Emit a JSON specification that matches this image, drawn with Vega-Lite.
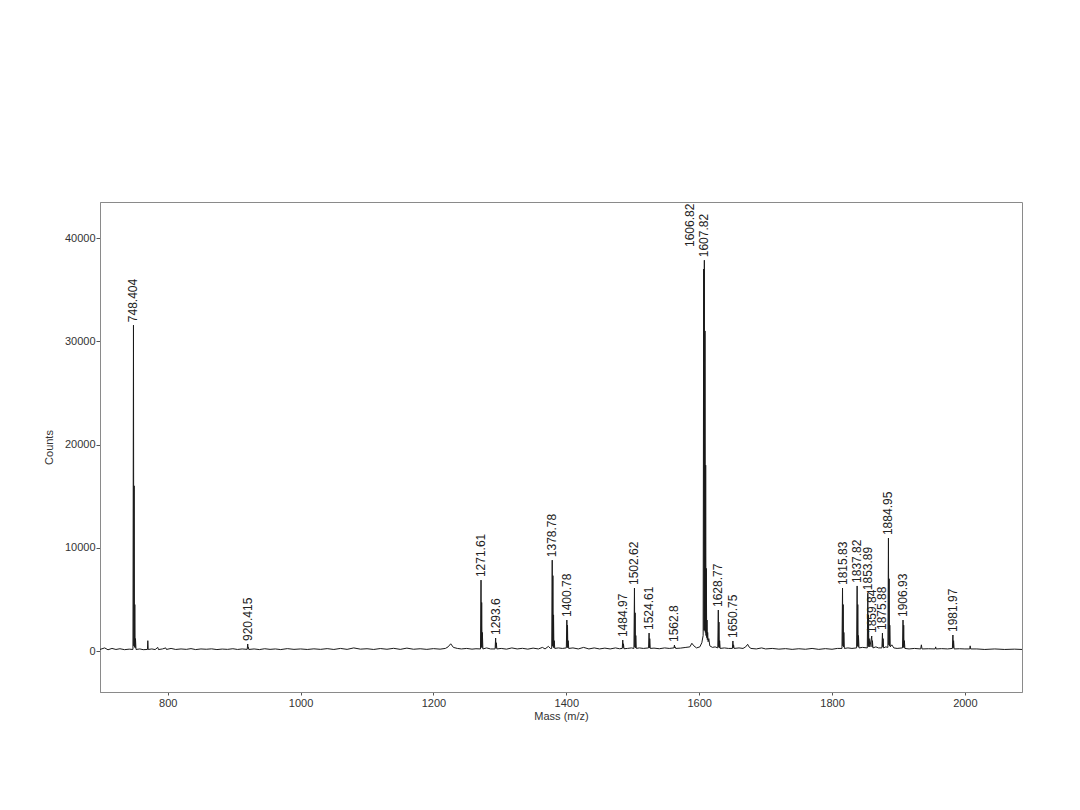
{
  "$schema": "https://vega.github.io/schema/vega-lite/v6.json",
  "width": 922,
  "height": 490,
  "autosize": {"type": "none"},
  "padding": {"left": 100, "top": 202, "right": 58, "bottom": 118},
  "background": "white",
  "config": {
    "font": "Liberation Sans",
    "view": {"stroke": "#8a8a8a", "strokeWidth": 1},
    "axis": {"domainColor": "#8a8a8a", "tickColor": "#555555", "labelColor": "#333333", "titleColor": "#333333", "labelFont": "Liberation Sans", "titleFont": "Liberation Sans", "labelFontSize": 11, "titleFontSize": 11, "titleFontWeight": "normal", "grid": false}
  },
  "datasets": {
    "trace": [
      {"mz": 698, "c": 150}, {"mz": 705, "c": 300}, {"mz": 710, "c": 120}, {"mz": 716, "c": 250}, {"mz": 722, "c": 150}, {"mz": 728, "c": 220}, {"mz": 735, "c": 130}, {"mz": 742, "c": 180},
      {"mz": 747.6, "c": 150}, {"mz": 748.4, "c": 31560}, {"mz": 748.9, "c": 500}, {"mz": 749.4, "c": 16000}, {"mz": 749.9, "c": 400}, {"mz": 750.4, "c": 4500}, {"mz": 750.9, "c": 300}, {"mz": 751.4, "c": 1200}, {"mz": 752.2, "c": 150},
      {"mz": 758, "c": 200}, {"mz": 763, "c": 130}, {"mz": 769.4, "c": 150}, {"mz": 770, "c": 1000}, {"mz": 770.6, "c": 150}, {"mz": 776, "c": 200}, {"mz": 781, "c": 140}, {"mz": 785, "c": 350}, {"mz": 786, "c": 140}, {"mz": 792, "c": 200}, {"mz": 797, "c": 300}, {"mz": 798, "c": 150},
      {"mz": 805, "c": 250}, {"mz": 812, "c": 150}, {"mz": 820, "c": 200}, {"mz": 828, "c": 160}, {"mz": 835, "c": 230}, {"mz": 842, "c": 140}, {"mz": 850, "c": 200}, {"mz": 858, "c": 170}, {"mz": 866, "c": 210}, {"mz": 874, "c": 140}, {"mz": 882, "c": 190}, {"mz": 890, "c": 160}, {"mz": 898, "c": 220}, {"mz": 905, "c": 150}, {"mz": 912, "c": 200},
      {"mz": 919.6, "c": 160}, {"mz": 920.4, "c": 680}, {"mz": 921, "c": 250}, {"mz": 921.4, "c": 350}, {"mz": 922, "c": 150},
      {"mz": 930, "c": 200}, {"mz": 938, "c": 140}, {"mz": 946, "c": 220}, {"mz": 954, "c": 160}, {"mz": 962, "c": 200}, {"mz": 970, "c": 140}, {"mz": 980, "c": 230}, {"mz": 990, "c": 160}, {"mz": 1000, "c": 200}, {"mz": 1010, "c": 150}, {"mz": 1020, "c": 210}, {"mz": 1030, "c": 160}, {"mz": 1040, "c": 230}, {"mz": 1050, "c": 150}, {"mz": 1060, "c": 250}, {"mz": 1070, "c": 160}, {"mz": 1080, "c": 300}, {"mz": 1090, "c": 180}, {"mz": 1100, "c": 220}, {"mz": 1110, "c": 150}, {"mz": 1120, "c": 240}, {"mz": 1130, "c": 170}, {"mz": 1140, "c": 260}, {"mz": 1150, "c": 160}, {"mz": 1160, "c": 280}, {"mz": 1170, "c": 170}, {"mz": 1180, "c": 220}, {"mz": 1190, "c": 160}, {"mz": 1200, "c": 230}, {"mz": 1210, "c": 180},
      {"mz": 1218, "c": 250}, {"mz": 1222, "c": 400}, {"mz": 1226, "c": 700}, {"mz": 1230, "c": 350}, {"mz": 1236, "c": 250}, {"mz": 1242, "c": 200}, {"mz": 1250, "c": 250}, {"mz": 1258, "c": 180}, {"mz": 1264, "c": 220},
      {"mz": 1270.8, "c": 200}, {"mz": 1271.6, "c": 6870}, {"mz": 1272.1, "c": 400}, {"mz": 1272.6, "c": 4700}, {"mz": 1273.1, "c": 300}, {"mz": 1273.6, "c": 1800}, {"mz": 1274.4, "c": 200},
      {"mz": 1280, "c": 300}, {"mz": 1286, "c": 200},
      {"mz": 1292.8, "c": 200}, {"mz": 1293.6, "c": 1260}, {"mz": 1294.1, "c": 300}, {"mz": 1294.6, "c": 800}, {"mz": 1295.4, "c": 200},
      {"mz": 1302, "c": 250}, {"mz": 1310, "c": 180}, {"mz": 1318, "c": 300}, {"mz": 1326, "c": 200}, {"mz": 1334, "c": 260}, {"mz": 1342, "c": 180}, {"mz": 1350, "c": 280}, {"mz": 1358, "c": 200}, {"mz": 1364, "c": 350}, {"mz": 1368, "c": 200}, {"mz": 1373, "c": 450}, {"mz": 1376, "c": 250},
      {"mz": 1378, "c": 250}, {"mz": 1378.8, "c": 8800}, {"mz": 1379.3, "c": 500}, {"mz": 1379.8, "c": 7300}, {"mz": 1380.3, "c": 400}, {"mz": 1380.8, "c": 3500}, {"mz": 1381.3, "c": 300}, {"mz": 1381.8, "c": 1000}, {"mz": 1382.6, "c": 250},
      {"mz": 1388, "c": 300}, {"mz": 1394, "c": 250},
      {"mz": 1400, "c": 300}, {"mz": 1400.8, "c": 3000}, {"mz": 1401.3, "c": 400}, {"mz": 1401.8, "c": 2500}, {"mz": 1402.3, "c": 300}, {"mz": 1402.8, "c": 1000}, {"mz": 1403.6, "c": 250},
      {"mz": 1410, "c": 300}, {"mz": 1418, "c": 200}, {"mz": 1426, "c": 350}, {"mz": 1434, "c": 200}, {"mz": 1442, "c": 300}, {"mz": 1450, "c": 200}, {"mz": 1458, "c": 280}, {"mz": 1466, "c": 200}, {"mz": 1474, "c": 300}, {"mz": 1480, "c": 220},
      {"mz": 1484.2, "c": 250}, {"mz": 1485.0, "c": 1060}, {"mz": 1485.5, "c": 300}, {"mz": 1486, "c": 700}, {"mz": 1486.8, "c": 220},
      {"mz": 1492, "c": 250}, {"mz": 1498, "c": 300},
      {"mz": 1501.8, "c": 250}, {"mz": 1502.6, "c": 6100}, {"mz": 1503.1, "c": 400}, {"mz": 1503.6, "c": 3700}, {"mz": 1504.1, "c": 300}, {"mz": 1504.6, "c": 1500}, {"mz": 1505.4, "c": 250},
      {"mz": 1510, "c": 300}, {"mz": 1516, "c": 250},
      {"mz": 1523.8, "c": 300}, {"mz": 1524.6, "c": 1740}, {"mz": 1525.1, "c": 300}, {"mz": 1525.6, "c": 1200}, {"mz": 1526.4, "c": 250},
      {"mz": 1532, "c": 280}, {"mz": 1540, "c": 220}, {"mz": 1548, "c": 300}, {"mz": 1555, "c": 250},
      {"mz": 1562, "c": 300}, {"mz": 1562.8, "c": 580}, {"mz": 1563.3, "c": 300}, {"mz": 1563.8, "c": 400}, {"mz": 1564.6, "c": 250},
      {"mz": 1572, "c": 280}, {"mz": 1580, "c": 350}, {"mz": 1586, "c": 400}, {"mz": 1589, "c": 750}, {"mz": 1592, "c": 500}, {"mz": 1596, "c": 300}, {"mz": 1601, "c": 400}, {"mz": 1604, "c": 800},
      {"mz": 1606.0, "c": 1500}, {"mz": 1606.8, "c": 37000}, {"mz": 1607.3, "c": 2000}, {"mz": 1607.8, "c": 37850}, {"mz": 1608.3, "c": 2000}, {"mz": 1608.8, "c": 31000}, {"mz": 1609.3, "c": 1800}, {"mz": 1609.8, "c": 18000}, {"mz": 1610.3, "c": 1500}, {"mz": 1610.8, "c": 8000}, {"mz": 1611.3, "c": 1300}, {"mz": 1611.8, "c": 3000}, {"mz": 1612.3, "c": 1100}, {"mz": 1612.8, "c": 1800}, {"mz": 1613.5, "c": 900}, {"mz": 1614.5, "c": 1200}, {"mz": 1616, "c": 500},
      {"mz": 1620, "c": 350}, {"mz": 1624, "c": 400},
      {"mz": 1628.0, "c": 300}, {"mz": 1628.8, "c": 3970}, {"mz": 1629.3, "c": 400}, {"mz": 1629.8, "c": 2800}, {"mz": 1630.3, "c": 300}, {"mz": 1630.8, "c": 1000}, {"mz": 1631.6, "c": 250},
      {"mz": 1638, "c": 300}, {"mz": 1644, "c": 250},
      {"mz": 1650.0, "c": 250}, {"mz": 1650.8, "c": 970}, {"mz": 1651.3, "c": 300}, {"mz": 1651.8, "c": 600}, {"mz": 1652.6, "c": 250},
      {"mz": 1660, "c": 300}, {"mz": 1666, "c": 250}, {"mz": 1670, "c": 400}, {"mz": 1673, "c": 650}, {"mz": 1675, "c": 400}, {"mz": 1678, "c": 250}, {"mz": 1686, "c": 200}, {"mz": 1694, "c": 300}, {"mz": 1700, "c": 200}, {"mz": 1710, "c": 250}, {"mz": 1720, "c": 180}, {"mz": 1730, "c": 230}, {"mz": 1740, "c": 160}, {"mz": 1750, "c": 220}, {"mz": 1760, "c": 170}, {"mz": 1770, "c": 250}, {"mz": 1780, "c": 160}, {"mz": 1790, "c": 230}, {"mz": 1800, "c": 170}, {"mz": 1808, "c": 250},
      {"mz": 1815.0, "c": 250}, {"mz": 1815.8, "c": 6100}, {"mz": 1816.3, "c": 500}, {"mz": 1816.8, "c": 4500}, {"mz": 1817.3, "c": 400}, {"mz": 1817.8, "c": 1800}, {"mz": 1818.6, "c": 250},
      {"mz": 1824, "c": 300}, {"mz": 1830, "c": 250},
      {"mz": 1837.0, "c": 300}, {"mz": 1837.8, "c": 6300}, {"mz": 1838.3, "c": 500}, {"mz": 1838.8, "c": 4500}, {"mz": 1839.3, "c": 400}, {"mz": 1839.8, "c": 1500}, {"mz": 1840.6, "c": 300},
      {"mz": 1846, "c": 350},
      {"mz": 1853.1, "c": 300}, {"mz": 1853.9, "c": 5600}, {"mz": 1854.4, "c": 500}, {"mz": 1854.9, "c": 3500}, {"mz": 1855.4, "c": 400}, {"mz": 1855.9, "c": 1200}, {"mz": 1857, "c": 400},
      {"mz": 1859.8, "c": 1450}, {"mz": 1860.3, "c": 400}, {"mz": 1860.8, "c": 1000}, {"mz": 1861.6, "c": 300},
      {"mz": 1866, "c": 400}, {"mz": 1870, "c": 300},
      {"mz": 1875.1, "c": 300}, {"mz": 1875.9, "c": 1740}, {"mz": 1876.4, "c": 400}, {"mz": 1876.9, "c": 1200}, {"mz": 1877.7, "c": 300},
      {"mz": 1881, "c": 400},
      {"mz": 1884.1, "c": 350}, {"mz": 1884.95, "c": 10940}, {"mz": 1885.5, "c": 600}, {"mz": 1885.95, "c": 7000}, {"mz": 1886.5, "c": 500}, {"mz": 1886.95, "c": 2500}, {"mz": 1887.7, "c": 400},
      {"mz": 1890, "c": 600}, {"mz": 1893, "c": 300}, {"mz": 1898, "c": 250},
      {"mz": 1906.1, "c": 300}, {"mz": 1906.9, "c": 3000}, {"mz": 1907.4, "c": 400}, {"mz": 1907.9, "c": 2500}, {"mz": 1908.4, "c": 300}, {"mz": 1908.9, "c": 1000}, {"mz": 1909.7, "c": 250},
      {"mz": 1916, "c": 200}, {"mz": 1924, "c": 250}, {"mz": 1933.5, "c": 200}, {"mz": 1934.5, "c": 600}, {"mz": 1935.5, "c": 200}, {"mz": 1945, "c": 220}, {"mz": 1955.3, "c": 200}, {"mz": 1956, "c": 400}, {"mz": 1956.7, "c": 200}, {"mz": 1965, "c": 230}, {"mz": 1974, "c": 200},
      {"mz": 1981.2, "c": 250}, {"mz": 1982.0, "c": 1550}, {"mz": 1982.5, "c": 300}, {"mz": 1983.0, "c": 1000}, {"mz": 1983.8, "c": 200},
      {"mz": 1992, "c": 220}, {"mz": 2000, "c": 200}, {"mz": 2007.3, "c": 200}, {"mz": 2008, "c": 500}, {"mz": 2008.7, "c": 200}, {"mz": 2018, "c": 200}, {"mz": 2030, "c": 150}, {"mz": 2045, "c": 200}, {"mz": 2060, "c": 150}, {"mz": 2075, "c": 180}, {"mz": 2086, "c": 150}
    ],
    "labels": [
      {"mz": 748.4, "c": 31560, "label": "748.404"},
      {"mz": 920.4, "c": 680, "label": "920.415"},
      {"mz": 1271.6, "c": 6870, "label": "1271.61"},
      {"mz": 1293.6, "c": 1260, "label": "1293.6"},
      {"mz": 1378.8, "c": 8800, "label": "1378.78"},
      {"mz": 1400.8, "c": 3000, "label": "1400.78"},
      {"mz": 1485.0, "c": 1060, "label": "1484.97"},
      {"mz": 1502.6, "c": 6100, "label": "1502.62"},
      {"mz": 1524.6, "c": 1740, "label": "1524.61"},
      {"mz": 1562.8, "c": 580, "label": "1562.8"},
      {"mz": 1606.8, "c": 37000, "label": "1606.82"},
      {"mz": 1607.8, "c": 37850, "label": "1607.82"},
      {"mz": 1628.8, "c": 3970, "label": "1628.77"},
      {"mz": 1650.8, "c": 970, "label": "1650.75"},
      {"mz": 1815.8, "c": 6100, "label": "1815.83"},
      {"mz": 1837.8, "c": 6300, "label": "1837.82"},
      {"mz": 1853.9, "c": 5600, "label": "1853.89"},
      {"mz": 1859.8, "c": 1450, "label": "1859.84"},
      {"mz": 1875.9, "c": 1740, "label": "1875.88"},
      {"mz": 1884.95, "c": 10940, "label": "1884.95"},
      {"mz": 1906.9, "c": 3000, "label": "1906.93"},
      {"mz": 1982.0, "c": 1550, "label": "1981.97"}
    ]
  },
  "encoding": {
    "x": {"field": "mz", "type": "quantitative", "scale": {"domain": [698, 2086], "nice": false, "zero": false},
      "axis": {"values": [800, 1000, 1200, 1400, 1600, 1800, 2000], "format": "d", "title": "Mass (m/z)", "tickSize": 3, "labelPadding": 2, "titlePadding": 2}},
    "y": {"field": "c", "type": "quantitative", "scale": {"domain": [-3970, 43490], "nice": false, "zero": false},
      "axis": {"values": [0, 10000, 20000, 30000, 40000], "format": "d", "title": "Counts", "tickSize": 4, "labelPadding": 1, "titlePadding": 10}}
  },
  "layer": [
    {"data": {"name": "trace"}, "mark": {"type": "line", "color": "#1a1a1a", "strokeWidth": 1, "interpolate": "linear"}},
    {"data": {"name": "labels"}, "transform": [{"filter": "datum.label != '1606.82'"}],
      "mark": {"type": "text", "angle": 270, "align": "left", "baseline": "middle", "dx": 3, "fontSize": 12, "color": "#222222", "font": "Liberation Sans"},
      "encoding": {"text": {"field": "label", "type": "nominal"}}},
    {"data": {"name": "labels"}, "transform": [{"filter": "datum.label == '1606.82'"}],
      "mark": {"type": "text", "angle": 270, "align": "left", "baseline": "middle", "dx": 22, "dy": -14, "fontSize": 12, "color": "#222222", "font": "Liberation Sans"},
      "encoding": {"text": {"field": "label", "type": "nominal"}}}
  ]
}
